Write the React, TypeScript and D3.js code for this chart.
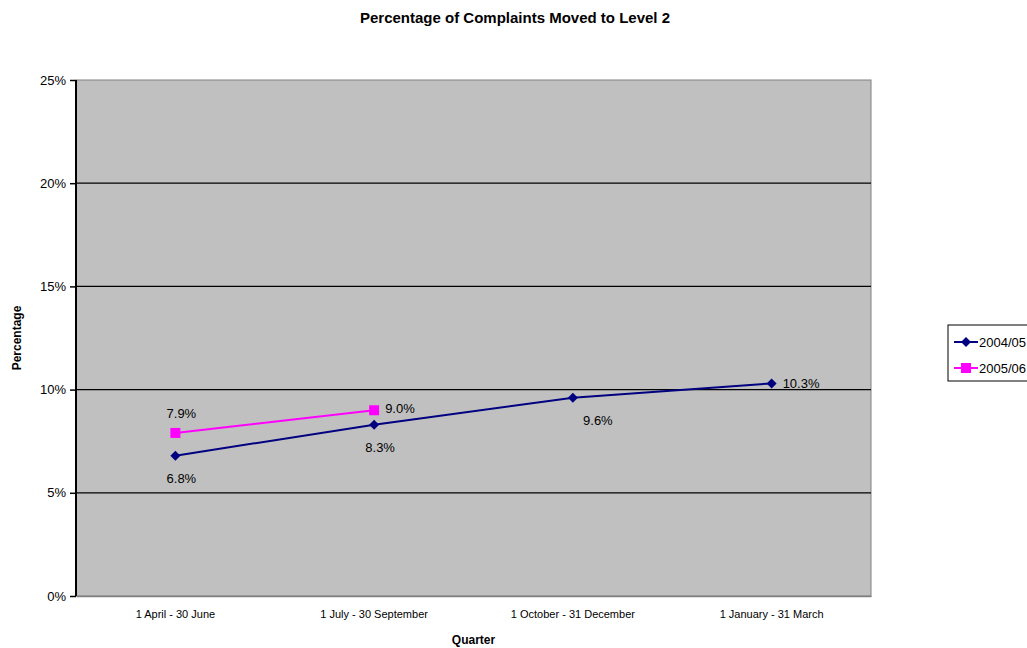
import React, { useRef, useEffect } from "react"
import * as d3 from "d3"

const quarters = ["1 April - 30 June", "1 July - 30 September", "1 October - 31 December", "1 January - 31 March"]
const values0405 = [6.8, 8.3, 9.6, 10.3]
const values0506 = [7.9, 9.0]
const yTicks = [0, 5, 10, 15, 20, 25]

const App: React.FC = () => {
  const svgRef = useRef<SVGSVGElement | null>(null)
  const width = 1027
  const height = 648

  useEffect(() => {
    if (!svgRef.current) return
    const svg = d3.select(svgRef.current)
    svg.selectAll("*").remove()

    const font = "'Liberation Sans', Arial, sans-serif"
    const plot = { left: 76, right: 871, top: 80, bottom: 596 }

    const x = d3.scaleBand().domain(quarters).range([plot.left, plot.right])
    const y = d3.scaleLinear().domain([0, 25]).range([plot.bottom, plot.top])
    const cx = (i: number) => (x(quarters[i]) || 0) + x.bandwidth() / 2

    // title
    svg.append("text")
      .attr("x", 515).attr("y", 23)
      .attr("text-anchor", "middle")
      .attr("font-family", font).attr("font-size", 15).attr("font-weight", "bold")
      .text("Percentage of Complaints Moved to Level 2")

    // plot area
    svg.append("rect")
      .attr("x", plot.left).attr("y", plot.top)
      .attr("width", plot.right - plot.left).attr("height", plot.bottom - plot.top)
      .attr("fill", "#c0c0c0").attr("stroke", "#808080").attr("stroke-width", 1)

    // gridlines
    svg.append("g").selectAll("line")
      .data(yTicks.filter((t) => t > 0 && t < 25))
      .enter().append("line")
      .attr("x1", plot.left).attr("x2", plot.right)
      .attr("y1", (d) => y(d)).attr("y2", (d) => y(d))
      .attr("stroke", "#000").attr("stroke-width", 1.2)

    // y axis
    const yAxis = svg.append("g")
      .attr("transform", `translate(${plot.left},0)`)
      .call(d3.axisLeft(y).tickValues(yTicks).tickSize(6).tickPadding(4).tickFormat((d) => `${d}%`))
    yAxis.select(".domain").attr("stroke", "#000").attr("stroke-width", 2)
      .attr("d", `M0,${plot.top}V${plot.bottom}`)
    yAxis.selectAll(".tick line").attr("stroke", "#000").attr("stroke-width", 1.5)
    yAxis.selectAll("text").attr("font-family", font).attr("font-size", 13).attr("fill", "#000")

    // x axis
    const xAxis = svg.append("g")
      .attr("transform", `translate(0,${plot.bottom})`)
      .call(d3.axisBottom(x).tickSize(0).tickPadding(14))
    xAxis.select(".domain").attr("stroke", "#808080").attr("stroke-width", 1.5)
    xAxis.selectAll("text").attr("font-family", font).attr("font-size", 11).attr("fill", "#000")

    // axis titles
    svg.append("text")
      .attr("x", (plot.left + plot.right) / 2).attr("y", 644)
      .attr("text-anchor", "middle")
      .attr("font-family", font).attr("font-size", 12).attr("font-weight", "bold")
      .text("Quarter")
    svg.append("text")
      .attr("transform", `translate(21,${(plot.top + plot.bottom) / 2}) rotate(-90)`)
      .attr("text-anchor", "middle")
      .attr("font-family", font).attr("font-size", 12).attr("font-weight", "bold")
      .text("Percentage")

    const line = d3.line<number>().x((_, i) => cx(i)).y((d) => y(d))
    const diamond = d3.symbol().type(d3.symbolSquare).size(50)

    // 2004/05
    svg.append("path").datum(values0405)
      .attr("d", line).attr("fill", "none").attr("stroke", "#000080").attr("stroke-width", 2)
    svg.append("g").selectAll("path")
      .data(values0405).enter().append("path")
      .attr("d", diamond)
      .attr("transform", (d, i) => `translate(${cx(i)},${y(d)}) rotate(45)`)
      .attr("fill", "#000080")

    // 2005/06
    svg.append("path").datum(values0506)
      .attr("d", line).attr("fill", "none").attr("stroke", "#ff00ff").attr("stroke-width", 2)
    svg.append("g").selectAll("rect")
      .data(values0506).enter().append("rect")
      .attr("x", (_, i) => cx(i) - 5).attr("y", (d) => y(d) - 5)
      .attr("width", 10).attr("height", 10)
      .attr("fill", "#ff00ff")

    // data labels
    const labels = svg.append("g").attr("font-family", font).attr("font-size", 13).attr("fill", "#000")
    values0405.forEach((v, i) => {
      const last = i === values0405.length - 1
      labels.append("text")
        .attr("x", last ? cx(i) + 11 : cx(i) + (i === 2 ? 25 : 6))
        .attr("y", last ? y(v) + 5 : y(v) + 27)
        .attr("text-anchor", last ? "start" : "middle")
        .text(`${v.toFixed(1)}%`)
    })
    values0506.forEach((v, i) => {
      const last = i === values0506.length - 1
      labels.append("text")
        .attr("x", last ? cx(i) + 11 : cx(i) + 6)
        .attr("y", last ? y(v) + 3 : y(v) - 15)
        .attr("text-anchor", last ? "start" : "middle")
        .text(`${v.toFixed(1)}%`)
    })

    // legend
    const lg = svg.append("g").attr("transform", "translate(948,325)")
    lg.append("rect").attr("width", 90).attr("height", 56)
      .attr("fill", "#fff").attr("stroke", "#000").attr("stroke-width", 1)
    const entries = [
      { name: "2004/05", color: "#000080", shape: "diamond" },
      { name: "2005/06", color: "#ff00ff", shape: "square" },
    ]
    entries.forEach((e, i) => {
      const ey = 17 + i * 26
      lg.append("line").attr("x1", 6).attr("x2", 30).attr("y1", ey).attr("y2", ey)
        .attr("stroke", e.color).attr("stroke-width", 2)
      if (e.shape === "diamond") {
        lg.append("path").attr("d", diamond).attr("transform", `translate(18,${ey}) rotate(45)`).attr("fill", e.color)
      } else {
        lg.append("rect").attr("x", 13).attr("y", ey - 5).attr("width", 10).attr("height", 10).attr("fill", e.color)
      }
      lg.append("text").attr("x", 31).attr("y", ey + 5)
        .attr("font-family", font).attr("font-size", 13).attr("fill", "#000")
        .text(e.name)
    })
  }, [])

  return (
    <svg
      ref={svgRef}
      width={width}
      height={height}
      style={{ position: "absolute", left: 0, top: 0, background: "#fff" }}
    ></svg>
  )
}

export default App
